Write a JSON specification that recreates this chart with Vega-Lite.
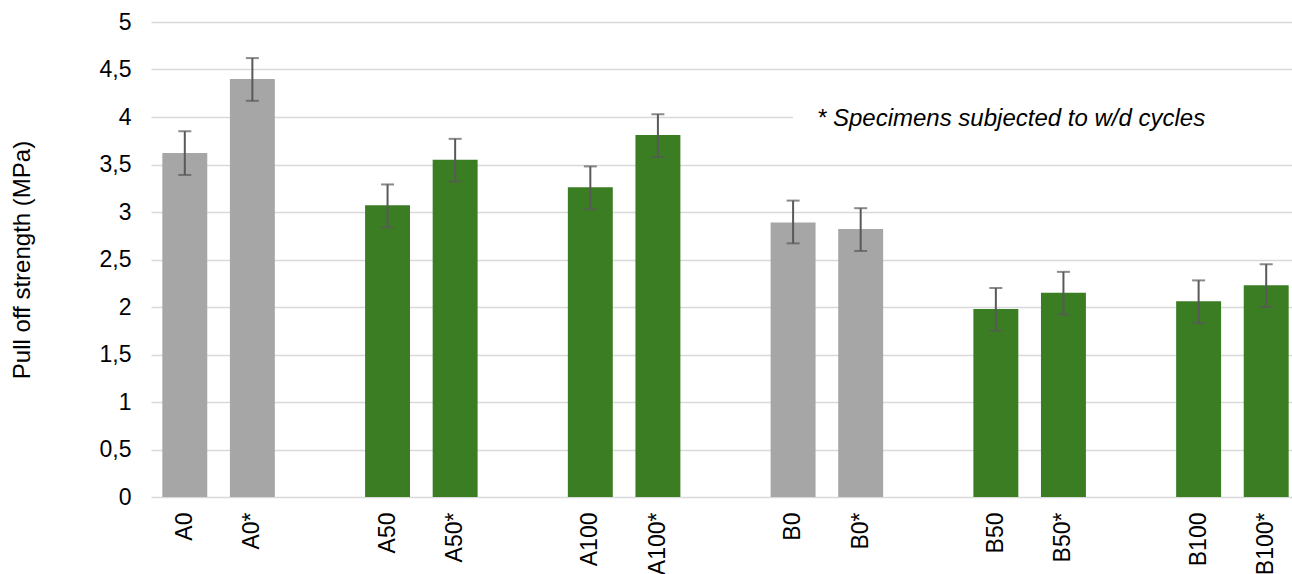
{
  "$schema": "https://vega.github.io/schema/vega-lite/v6.json",
  "autosize": "none",
  "width": 1149,
  "height": 475,
  "padding": {"left": 151, "top": 22, "right": 0, "bottom": 77},
  "background": "white",
  "config": {
    "view": {"stroke": null},
    "font": "Liberation Sans",
    "axis": {"labelFont": "Liberation Sans", "titleFont": "Liberation Sans", "labelColor": "#000000", "titleColor": "#000000"}
  },
  "layer": [
    {
      "data": {"values": [
        {"cat": "A0", "type": "ref", "value": 3.62, "lo": 3.39, "hi": 3.85},
        {"cat": "A0*", "type": "ref", "value": 4.40, "lo": 4.17, "hi": 4.62},
        {"cat": "A50", "type": "rec", "value": 3.07, "lo": 2.84, "hi": 3.29},
        {"cat": "A50*", "type": "rec", "value": 3.55, "lo": 3.32, "hi": 3.77},
        {"cat": "A100", "type": "rec", "value": 3.26, "lo": 3.03, "hi": 3.48},
        {"cat": "A100*", "type": "rec", "value": 3.81, "lo": 3.58, "hi": 4.03},
        {"cat": "B0", "type": "ref", "value": 2.89, "lo": 2.67, "hi": 3.12},
        {"cat": "B0*", "type": "ref", "value": 2.82, "lo": 2.59, "hi": 3.04},
        {"cat": "B50", "type": "rec", "value": 1.98, "lo": 1.75, "hi": 2.20},
        {"cat": "B50*", "type": "rec", "value": 2.15, "lo": 1.92, "hi": 2.37},
        {"cat": "B100", "type": "rec", "value": 2.06, "lo": 1.83, "hi": 2.28},
        {"cat": "B100*", "type": "rec", "value": 2.23, "lo": 2.00, "hi": 2.45}
      ]},
      "encoding": {
        "x": {
          "field": "cat",
          "type": "nominal",
          "scale": {
            "domain": ["A0", "A0*", "_1", "A50", "A50*", "_2", "A100", "A100*", "_3", "B0", "B0*", "_4", "B50", "B50*", "_5", "B100", "B100*"],
            "paddingInner": 0.335,
            "paddingOuter": 0.1675
          },
          "axis": {
            "title": null,
            "labelAngle": -90,
            "labelAlign": "right",
            "labelBaseline": "middle",
            "labelFontSize": 23,
            "labelPadding": 15,
            "ticks": false,
            "domain": false,
            "labelExpr": "substring(datum.value, 0, 1) == '_' ? '' : datum.value"
          }
        }
      },
      "layer": [
        {
          "mark": {"type": "bar"},
          "encoding": {
            "y": {
              "field": "value",
              "type": "quantitative",
              "scale": {"domain": [0, 5], "nice": false},
              "axis": {
                "title": "Pull off strength (MPa)",
                "titleFontSize": 24,
                "titleFontWeight": "normal",
                "titlePadding": 65,
                "values": [0, 0.5, 1, 1.5, 2, 2.5, 3, 3.5, 4, 4.5, 5],
                "labelExpr": "replace(format(datum.value, '~g'), '.', ',')",
                "labelFontSize": 23,
                "labelPadding": 20,
                "ticks": false,
                "domain": false,
                "grid": true,
                "gridColor": "#d9d9d9",
                "gridWidth": 1.5
              }
            },
            "color": {
              "field": "type",
              "type": "nominal",
              "scale": {"domain": ["ref", "rec"], "range": ["#a6a6a6", "#3b7d23"]},
              "legend": null
            }
          }
        },
        {
          "mark": {"type": "rule", "color": "#595959", "strokeWidth": 2},
          "encoding": {
            "y": {"field": "lo", "type": "quantitative"},
            "y2": {"field": "hi"}
          }
        },
        {
          "mark": {"type": "tick", "color": "#595959", "thickness": 2, "size": 13},
          "encoding": {"y": {"field": "lo", "type": "quantitative"}}
        },
        {
          "mark": {"type": "tick", "color": "#595959", "thickness": 2, "size": 13},
          "encoding": {"y": {"field": "hi", "type": "quantitative"}}
        }
      ]
    },
    {
      "data": {"values": [
        {"x0": 0.5587, "x1": 1.0, "ylo": 3.75, "yhi": 4.2, "tx": 0.5796, "ty": 3.98, "label": "* Specimens subjected to w/d cycles"}
      ]},
      "layer": [
        {
          "mark": {"type": "rect", "color": "white"},
          "encoding": {
            "x": {"field": "x0", "type": "quantitative", "scale": {"domain": [0, 1], "nice": false, "zero": false}, "axis": null},
            "x2": {"field": "x1"},
            "y": {"field": "ylo", "type": "quantitative"},
            "y2": {"field": "yhi"}
          }
        },
        {
          "mark": {"type": "text", "align": "left", "baseline": "middle", "fontStyle": "italic", "fontSize": 24, "color": "#000000"},
          "encoding": {
            "x": {"field": "tx", "type": "quantitative"},
            "y": {"field": "ty", "type": "quantitative"},
            "text": {"field": "label"}
          }
        }
      ],
      "resolve": {"scale": {"x": "shared"}}
    }
  ],
  "resolve": {"scale": {"x": "independent"}}
}
